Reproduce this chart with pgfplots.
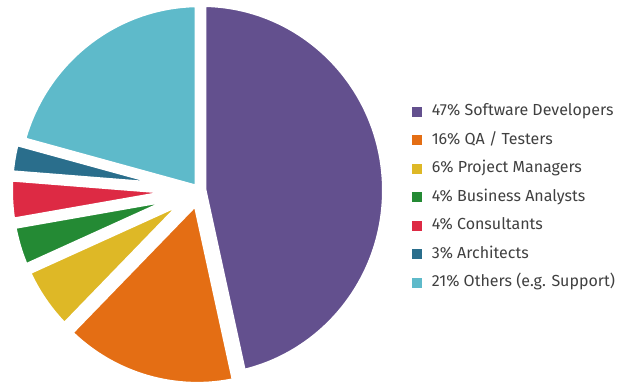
\documentclass[border=0pt]{standalone}
\usepackage{pgfplots}
\pgfplotsset{compat=1.18}
\usepackage{fontspec}
\setmainfont{Fira Sans}
\definecolor{cDev}{RGB}{99,80,142}
\definecolor{cQA}{RGB}{228,110,20}
\definecolor{cPM}{RGB}{222,184,38}
\definecolor{cBA}{RGB}{36,138,52}
\definecolor{cCon}{RGB}{221,42,68}
\definecolor{cArc}{RGB}{42,110,140}
\definecolor{cOth}{RGB}{94,186,202}
\definecolor{txt}{RGB}{64,64,64}
% pie geometry (1 axis unit = 1bp)
\def\pcx{199.5}\def\pcy{191.3}\def\pRx{185.5}\def\pRy{188.5}\def\ptot{101}
% #1 name, #2 cumulative start (%), #3 share (%), #4 explode (bp)
\newcommand\defslice[4]{%
  \pgfmathsetmacro\sA{90-#2/\ptot*360}%
  \pgfmathsetmacro\sB{90-(#2+#3)/\ptot*360}%
  \pgfmathsetmacro\sM{(\sA+\sB)/2}%
  \pgfmathsetmacro\vx{\pcx+#4*cos(\sM)}%
  \pgfmathsetmacro\vy{\pcy+#4*sin(\sM)}%
  \pgfmathsetmacro\px{\vx+\pRx*cos(\sA)}%
  \pgfmathsetmacro\py{\vy+\pRy*sin(\sA)}%
  \expandafter\xdef\csname sl#1\endcsname{(axis cs:\vx,\vy) -- (axis cs:\px,\py) arc[start angle=\sA, end angle=\sB, x radius=\pRx bp, y radius=\pRy bp] -- cycle}}
\defslice{Dev}{0}{47}{2}
\defslice{QA}{47}{16}{8}
\defslice{PM}{63}{6}{6}
\defslice{BA}{69}{4}{6}
\defslice{Con}{73}{4}{6}
\defslice{Arc}{77}{3}{6}
\defslice{Oth}{80}{21}{0}
\newcommand\slicefill[2]{\edef\tmp{\noexpand\fill[#2] \csname sl#1\endcsname;}\tmp}
\newcommand\slicegap[1]{\edef\tmp{\noexpand\draw[white, line width=10bp, line join=round] \csname sl#1\endcsname;}\tmp}
\begin{document}
\begin{tikzpicture}
\useasboundingbox (0,0) rectangle (618bp,382bp);
\begin{axis}[
  at={(0,0)}, anchor=south west,
  scale only axis, width=618bp, height=382bp,
  xmin=0, xmax=618, ymin=0, ymax=382,
  axis lines=none, clip=false,
  legend image code/.code={\draw[#1, draw=none] (0bp,-5bp) rectangle (10bp,5bp);},
  legend style={at={(0.666,0.7264)}, anchor=north west, draw=none, fill=none,
    inner sep=0pt, font=\fontsize{16bp}{18bp}\selectfont\color{txt},
    row sep=14.5bp,
    nodes={inner sep=0pt, text height=11bp, text depth=3bp},
    /tikz/every odd column/.style={column sep=10bp}},
  legend cell align=left,
]
\slicefill{Dev}{cDev}
\slicefill{QA}{cQA}
\slicefill{PM}{cPM}
\slicefill{BA}{cBA}
\slicefill{Con}{cCon}
\slicefill{Arc}{cArc}
\slicefill{Oth}{cOth}
\slicegap{Dev}\slicegap{QA}\slicegap{PM}\slicegap{BA}\slicegap{Con}\slicegap{Arc}\slicegap{Oth}
\addlegendimage{fill=cDev}\addlegendentry{47\% Software Developers}
\addlegendimage{fill=cQA}\addlegendentry{16\% QA / Testers}
\addlegendimage{fill=cPM}\addlegendentry{6\% Project Managers}
\addlegendimage{fill=cBA}\addlegendentry{4\% Business Analysts}
\addlegendimage{fill=cCon}\addlegendentry{4\% Consultants}
\addlegendimage{fill=cArc}\addlegendentry{3\% Architects}
\addlegendimage{fill=cOth}\addlegendentry{21\% Others (e.g. Support)}
\end{axis}
\end{tikzpicture}
\end{document}
